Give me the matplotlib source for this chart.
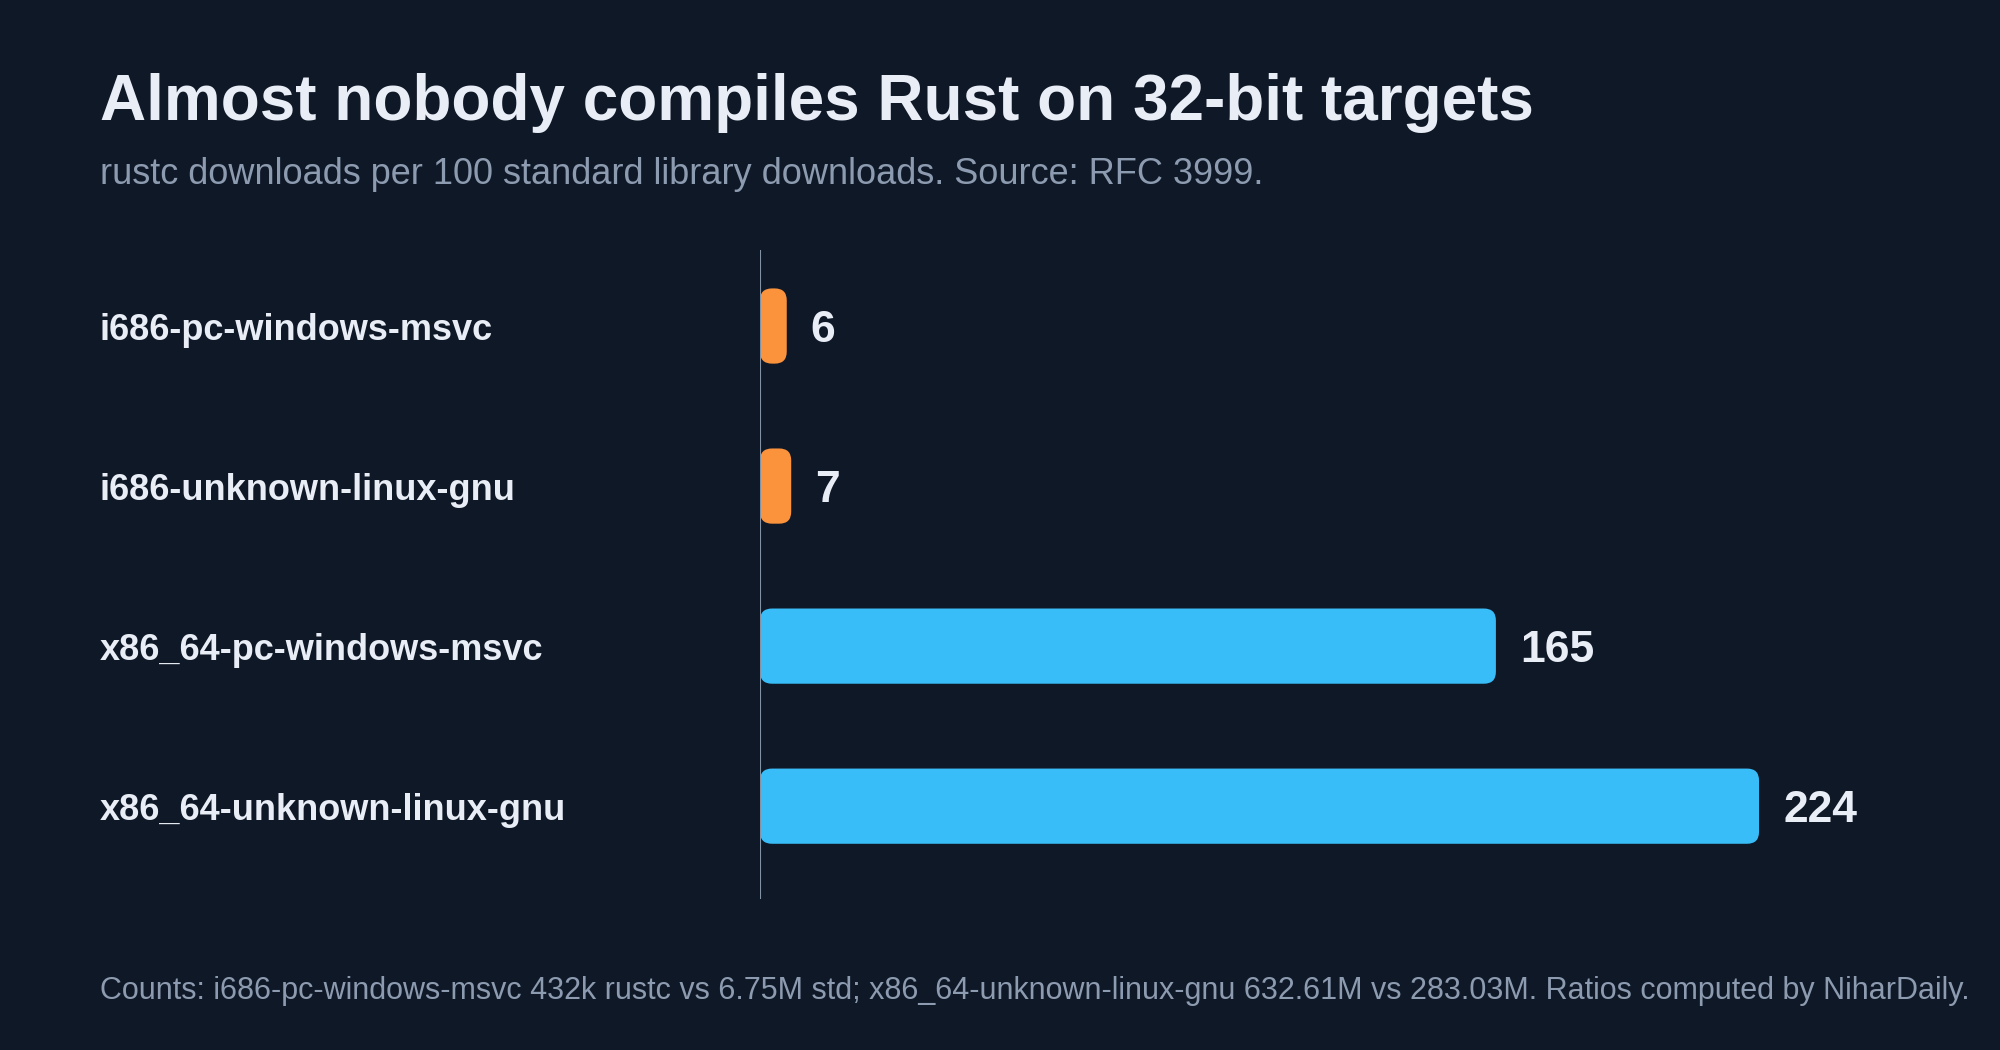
import matplotlib.pyplot as plt
from matplotlib.patches import FancyBboxPatch
from matplotlib.transforms import blended_transform_factory

targets = ["i686-pc-windows-msvc", "i686-unknown-linux-gnu",
           "x86_64-pc-windows-msvc", "x86_64-unknown-linux-gnu"]
ratios = [6, 7, 165, 224]
bar_colors = ["#fb923c", "#fb923c", "#38bdf8", "#38bdf8"]

title = "Almost nobody compiles Rust on 32-bit targets"
subtitle = "rustc downloads per 100 standard library downloads. Source: RFC 3999."
footer = ("Counts: i686-pc-windows-msvc 432k rustc vs 6.75M std; "
          "x86_64-unknown-linux-gnu 632.61M vs 283.03M. Ratios computed by NiharDaily.")

bg = "#0f1827"
text_col = "#e8edf6"
muted = "#8d9bb0"

plt.rcParams['font.family'] = ['Liberation Sans', 'DejaVu Sans']

W, H = 2000, 1050
fig = plt.figure(figsize=(W / 100, H / 100), dpi=100, facecolor=bg)

# axes from x=760..1900 px, y=250..899 px
ax = fig.add_axes([760 / W, 1 - 899 / H, (1900 - 760) / W, (899 - 250) / H])
ax.set_facecolor(bg)
px_per_unit = 4.46
ax.set_xlim(0, (1900 - 760) / px_per_unit)
ax.set_ylim(3.58, -0.475)

ypos = list(range(len(targets)))
bars = ax.barh(ypos, ratios, height=0.47, color=bar_colors, alpha=0)

# swap the plain bars for rounded ones with the same geometry
r_px = 12
for b, c in zip(bars, bar_colors):
    x0, y0 = b.get_x(), b.get_y()
    w, h = b.get_width(), b.get_height()
    r = min(r_px, w * px_per_unit / 2)
    patch = FancyBboxPatch((x0, y0), w, h,
                           boxstyle=f"round,pad=0,rounding_size={r / px_per_unit}",
                           mutation_aspect=(1 / 160) / (1 / px_per_unit),
                           facecolor=c, edgecolor="none", zorder=3)
    ax.add_patch(patch)

for y, v in zip(ypos, ratios):
    ax.text(v + 24 / px_per_unit, y, str(v), ha="left", va="center_baseline",
            fontsize=32, fontweight="bold", color=text_col, zorder=4)

lab_tr = blended_transform_factory(fig.transFigure, ax.transData)
for y, t in zip(ypos, targets):
    ax.text(100 / W, y, t, transform=lab_tr, ha="left", va="center_baseline",
            fontsize=26, fontweight="bold", color=text_col)

ax.axvline(0, color="#8391a5", lw=1.5, zorder=5)
for s in ax.spines.values():
    s.set_visible(False)
ax.set_xticks([])
ax.set_yticks([])

fig.text(100 / W, 1 - 120 / H, title, ha="left", va="baseline",
         fontsize=46, fontweight="bold", color=text_col)
fig.text(100 / W, 1 - 184 / H, subtitle, ha="left", va="baseline",
         fontsize=26, color=muted)
fig.text(100 / W, 1 - 999 / H, footer, ha="left", va="baseline",
         fontsize=22, color=muted)

fig.savefig("out.png", dpi=100, facecolor=bg)
